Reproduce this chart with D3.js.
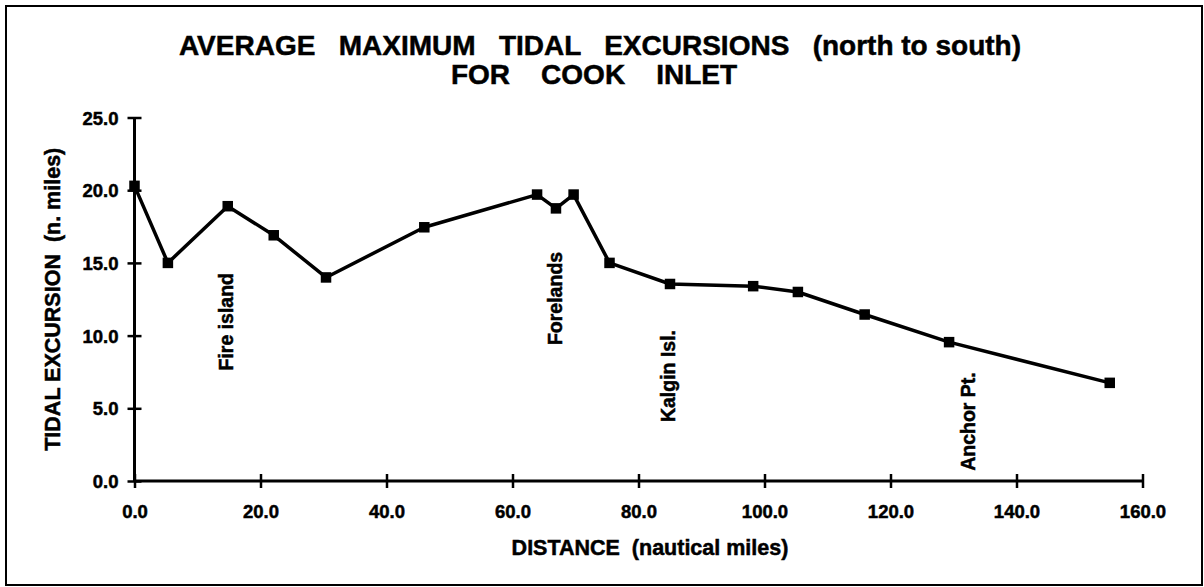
<!DOCTYPE html>
<html>
<head>
<meta charset="utf-8">
<script src="https://cdn.jsdelivr.net/npm/d3@7"></script>
<style>
  body { margin: 0; background: #fff; }
  svg text { font-family: "Liberation Sans", Arial, Helvetica, sans-serif; font-weight: bold; fill: #000; stroke: #000; stroke-width: 0.5px; }
</style>
</head>
<body>
<div class="chart"></div>
<script>
// Tidal excursions, Cook Inlet

// DATA-------------------------
const distance = [0, 5.3, 14.8, 22.1, 30.4, 46.0, 63.9, 66.9, 69.7, 75.4, 85.0, 98.2, 105.3, 115.9, 129.3, 154.8];
const excursion = [20.3, 15.0, 18.9, 16.9, 14.0, 17.45, 19.7, 18.75, 19.7, 15.0, 13.55, 13.4, 13.0, 11.45, 9.55, 6.75];

const xTicks = [0, 20, 40, 60, 80, 100, 120, 140, 160];
const yTicks = [0, 5, 10, 15, 20, 25];

const placeNames = ["Fire island", "Forelands", "Kalgin Isl.", "Anchor Pt."];
const placeDistance = [14.5, 66.7, 84.7, 132.3];
const placeExcursion = [7.6, 9.35, 4.05, 0.7];

// CHART INIT-------------------------
const W = 1204, H = 587;
const margin = {top: 117.5, right: 61.5, bottom: 106, left: 134.5};
const width = W - margin.left - margin.right;
const height = H - margin.top - margin.bottom;

const root = d3.select('.chart')
    .append('svg')
    .attr("width", W)
    .attr("height", H);

// frame
root.append("rect")
    .attr("x", 6).attr("y", 6)
    .attr("width", 1196).attr("height", 579)
    .attr("fill", "none")
    .attr("stroke", "#000")
    .attr("stroke-width", 2);

// title
const title = root.append("text")
    .attr("text-anchor", "middle")
    .attr("font-size", "28px")
    .style("white-space", "pre");
title.append("tspan").attr("x", 600).attr("y", 55)
    .text("AVERAGE   MAXIMUM   TIDAL   EXCURSIONS   (north to south)");
title.append("tspan").attr("x", 594).attr("y", 84)
    .text("FOR    COOK    INLET");

const svg = root.append("g")
    .attr("transform", "translate(" + margin.left + "," + margin.top + ")");

const xScale = d3.scaleLinear().domain([0, 160]).range([0, width]);
const yScale = d3.scaleLinear().domain([0, 25]).range([height, 0]);

const xAxis = d3.axisBottom(xScale).tickValues(xTicks).tickFormat(d3.format(".1f")).tickSize(7);
const yAxis = d3.axisLeft(yScale).tickValues(yTicks).tickFormat(d3.format(".1f")).tickSize(7);

const gx = svg.append('g')
    .attr('class', 'axis x-axis')
    .attr("transform", `translate(0, ${height})`)
    .call(xAxis);

const gy = svg.append('g')
    .attr('class', 'axis y-axis')
    .call(yAxis);

// ticks cross the axis line
gx.selectAll(".tick line").attr("y1", -7).attr("stroke-width", 2.5);
gy.selectAll(".tick line").attr("x1", 7).attr("stroke-width", 2.5);
gx.select(".domain").attr("d", `M0,0H${width}`).attr("stroke-width", 3);
gy.select(".domain").attr("d", `M0,0V${height}`).attr("stroke-width", 3);

gx.selectAll(".tick text")
    .attr("y", 37)
    .attr("dy", 0)
    .attr("font-size", "18.5px")
    .attr("font-family", null);
gy.selectAll(".tick text")
    .attr("x", -16)
    .attr("dy", "0.36em")
    .attr("font-size", "18.5px")
    .attr("font-family", null);

// axis titles
root.append("text")
    .attr("x", 650).attr("y", 555)
    .attr("text-anchor", "middle")
    .attr("font-size", "21.5px")
    .style("white-space", "pre")
    .text("DISTANCE  (nautical miles)");

root.append("text")
    .attr("transform", "translate(60," + (margin.top + height / 2) + ") rotate(-90)")
    .attr("text-anchor", "middle")
    .attr("font-size", "21.5px")
    .style("white-space", "pre")
    .text("TIDAL EXCURSION  (n. miles)");

// line + markers
const points = distance.map((d, i) => ({x: d, y: excursion[i]}));

const line = d3.line()
    .x(d => xScale(d.x))
    .y(d => yScale(d.y));

svg.append("path")
    .datum(points)
    .attr("fill", "none")
    .attr("stroke", "#000")
    .attr("stroke-width", 3.5)
    .attr("stroke-linejoin", "round")
    .attr("d", line);

const sz = 10.5;
svg.selectAll("rect.marker")
    .data(points)
    .enter()
    .append("rect")
    .attr("class", "marker")
    .attr("x", d => xScale(d.x) - sz / 2)
    .attr("y", d => yScale(d.y) - sz / 2)
    .attr("width", sz)
    .attr("height", sz)
    .attr("fill", "#000");

// place labels
svg.selectAll("text.place")
    .data(placeNames)
    .enter()
    .append("text")
    .attr("class", "place")
    .attr("font-size", "19.5px")
    .attr("transform", (d, i) => `translate(${xScale(placeDistance[i])},${yScale(placeExcursion[i])}) rotate(-90)`)
    .attr("dy", "0.36em")
    .text(d => d);
</script>
</body>
</html>
